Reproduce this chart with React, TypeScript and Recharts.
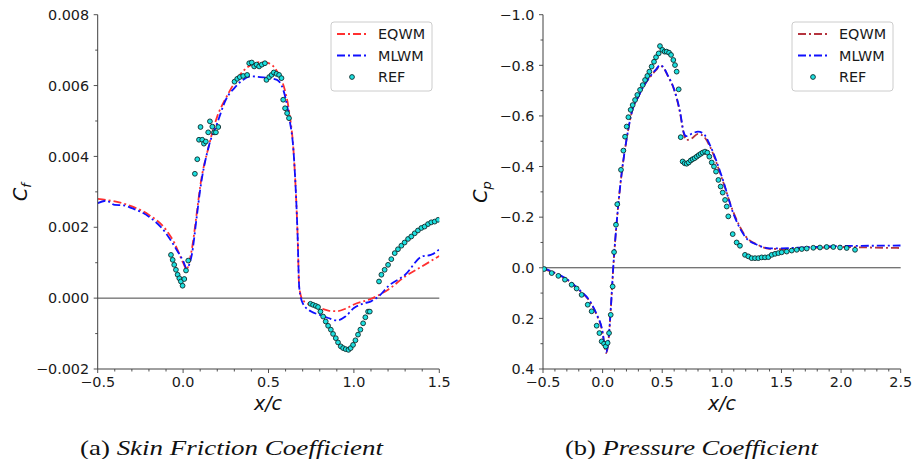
import { ComposedChart, Line, Scatter, XAxis, YAxis, ReferenceLine } from "recharts";

// ---- skin friction (values in units of 1e-3) ----
const cfEqwmX = [-0.5, -0.45, -0.4, -0.3, -0.2, -0.1, -0.05, 0.0, 0.02, 0.05, 0.08, 0.1, 0.15, 0.2, 0.25, 0.3, 0.35, 0.4, 0.45, 0.5, 0.55, 0.6, 0.62, 0.65, 0.67, 0.68, 0.7, 0.75, 0.8, 0.85, 0.9, 0.95, 1.0, 1.1, 1.2, 1.3, 1.4, 1.5];
const cfEqwm = [2.8, 2.77, 2.73, 2.59, 2.35, 1.93, 1.55, 1.0, 0.82, 1.35, 2.4, 3.15, 4.28, 5.13, 5.64, 6.07, 6.4, 6.59, 6.66, 6.63, 6.4, 5.79, 5.3, 3.9, 1.83, 0.3, -0.05, -0.2, -0.28, -0.35, -0.37, -0.3, -0.18, -0.02, 0.24, 0.61, 0.9, 1.19];

const cfMlwmX = [-0.5, -0.45, -0.4, -0.35, -0.3, -0.2, -0.1, -0.05, 0.0, 0.02, 0.05, 0.08, 0.1, 0.15, 0.2, 0.25, 0.3, 0.35, 0.4, 0.45, 0.5, 0.55, 0.6, 0.62, 0.65, 0.67, 0.68, 0.7, 0.75, 0.8, 0.85, 0.9, 0.95, 1.0, 1.05, 1.1, 1.15, 1.2, 1.3, 1.4, 1.45, 1.5];
const cfMlwm = [2.68, 2.75, 2.63, 2.62, 2.54, 2.3, 1.83, 1.46, 1.05, 0.85, 1.2, 2.3, 3.06, 4.28, 4.94, 5.6, 5.93, 6.16, 6.26, 6.24, 6.21, 6.16, 5.64, 5.13, 3.9, 1.83, 0.3, -0.14, -0.38, -0.47, -0.56, -0.63, -0.52, -0.28, -0.16, -0.09, 0.07, 0.33, 0.66, 1.18, 1.22, 1.38];

const cfRefX = [-0.071, -0.061, -0.052, -0.042, -0.032, -0.022, -0.013, -0.003, 0.007, 0.017, 0.03,
  0.069, 0.083, 0.093, 0.102, 0.112, 0.122, 0.133, 0.147, 0.157, 0.171, 0.182, 0.192, 0.206,
  0.301, 0.317, 0.332, 0.352, 0.375, 0.387, 0.402, 0.416, 0.43, 0.445, 0.461, 0.479, 0.488, 0.504, 0.518, 0.531, 0.547, 0.562, 0.576, 0.586, 0.597, 0.609, 0.62,
  0.746, 0.761, 0.777, 0.79, 0.804, 0.82, 0.835, 0.849, 0.865, 0.878, 0.894, 0.907, 0.923, 0.937, 0.952, 0.968, 0.981, 0.995, 1.009, 1.024, 1.038, 1.054, 1.067, 1.083, 1.093,
  1.147, 1.161, 1.18, 1.2, 1.219, 1.239, 1.258, 1.278, 1.297, 1.317, 1.336, 1.356, 1.375, 1.395, 1.414, 1.434, 1.453, 1.473, 1.493];
const cfRef = [1.22, 1.08, 0.94, 0.8, 0.66, 0.56, 0.47, 0.35, 0.54, 0.78, 1.06,
  3.51, 3.92, 4.47, 4.83, 4.47, 4.36, 4.42, 4.68, 4.99, 4.84, 4.68, 4.68, 4.83,
  6.11, 6.19, 6.24, 6.27, 6.3, 6.63, 6.65, 6.54, 6.59, 6.54, 6.59, 6.63, 6.16, 6.24, 6.3, 6.37, 6.33, 6.3, 6.21, 5.6, 5.36, 5.22, 5.08,
  -0.16, -0.19, -0.22, -0.25, -0.38, -0.52, -0.66, -0.78, -0.89, -1.01, -1.13, -1.25, -1.36, -1.41, -1.44, -1.46, -1.41, -1.32, -1.19, -1.03, -0.89, -0.71, -0.54, -0.38, -0.38,
  0.47, 0.66, 0.8, 0.94, 1.1, 1.27, 1.38, 1.48, 1.57, 1.67, 1.74, 1.83, 1.91, 1.98, 2.02, 2.09, 2.14, 2.16, 2.21];

// ---- pressure coefficient ----
const cpX = [-0.5, -0.4, -0.3, -0.2, -0.1, -0.05, 0.0, 0.02, 0.03, 0.05, 0.07, 0.09, 0.12, 0.15, 0.2, 0.25, 0.3, 0.35, 0.4, 0.45, 0.48, 0.5, 0.55, 0.6, 0.65, 0.68, 0.7, 0.75, 0.8, 0.85, 0.9, 1.0, 1.1, 1.2, 1.3, 1.4, 1.5, 1.75, 2.0, 2.25, 2.5];
const cpEqwm = [0.005, 0.021, 0.047, 0.087, 0.139, 0.186, 0.258, 0.32, 0.337, 0.284, 0.153, -0.005, -0.19, -0.334, -0.505, -0.624, -0.676, -0.722, -0.755, -0.782, -0.797, -0.795, -0.755, -0.703, -0.61, -0.532, -0.505, -0.512, -0.529, -0.518, -0.479, -0.354, -0.216, -0.124, -0.091, -0.075, -0.074, -0.078, -0.082, -0.08, -0.078];
const cpMlwm = [0.0, 0.02, 0.045, 0.085, 0.137, 0.184, 0.255, 0.318, 0.333, 0.28, 0.15, -0.008, -0.19, -0.334, -0.505, -0.624, -0.676, -0.722, -0.757, -0.785, -0.8, -0.797, -0.757, -0.705, -0.615, -0.535, -0.52, -0.53, -0.538, -0.528, -0.485, -0.36, -0.21, -0.12, -0.09, -0.077, -0.077, -0.082, -0.086, -0.087, -0.088];

const cpRefX = [-0.49, -0.427, -0.371, -0.316, -0.26, -0.218, -0.176, -0.125, -0.092, -0.05, -0.027, -0.008, 0.012, 0.026, 0.042, 0.054, 0.068, 0.084, 0.096, 0.112, 0.123, 0.154, 0.174, 0.188, 0.202, 0.216, 0.235, 0.252, 0.272, 0.291, 0.314, 0.336, 0.356, 0.375, 0.392, 0.411, 0.431, 0.448, 0.47, 0.481, 0.501, 0.52, 0.537, 0.557, 0.574, 0.593, 0.607, 0.621, 0.638, 0.655,
  0.671, 0.688, 0.705, 0.722, 0.739, 0.755, 0.772, 0.789, 0.806, 0.822, 0.839, 0.859, 0.878, 0.895, 0.915, 0.934, 0.951, 0.971, 0.99, 1.007, 1.027, 1.041, 1.054, 1.091, 1.124, 1.152, 1.194, 1.222, 1.25, 1.278, 1.306, 1.334, 1.362, 1.39, 1.418, 1.446, 1.474, 1.502, 1.544, 1.586, 1.628, 1.67, 1.712, 1.767, 1.823, 1.879, 1.935, 1.991, 2.047, 2.117];
const cpRef = [0.005, 0.021, 0.032, 0.047, 0.067, 0.082, 0.107, 0.146, 0.172, 0.229, 0.258, 0.291, 0.3, 0.311, 0.297, 0.258, 0.186, 0.074, -0.062, -0.17, -0.251, -0.387, -0.463, -0.518, -0.558, -0.595, -0.624, -0.643, -0.663, -0.683, -0.703, -0.722, -0.742, -0.758, -0.775, -0.795, -0.814, -0.832, -0.847, -0.876, -0.861, -0.854, -0.854, -0.85, -0.841, -0.821, -0.801, -0.775, -0.705, -0.516,
  -0.42, -0.413, -0.411, -0.416, -0.424, -0.429, -0.433, -0.439, -0.445, -0.45, -0.455, -0.459, -0.455, -0.439, -0.416, -0.4, -0.38, -0.347, -0.321, -0.297, -0.268, -0.242, -0.203, -0.133, -0.1, -0.087, -0.051, -0.045, -0.038, -0.038, -0.038, -0.041, -0.041, -0.042, -0.051, -0.055, -0.058, -0.061, -0.064, -0.068, -0.071, -0.074, -0.076, -0.079, -0.08, -0.082, -0.082, -0.08, -0.078, -0.071];

// ---- ticks ----
const cfXMajor = [-0.5, 0.0, 0.5, 1.0, 1.5];
const cfXMinor = [-0.4, -0.3, -0.2, -0.1, 0.1, 0.2, 0.3, 0.4, 0.6, 0.7, 0.8, 0.9, 1.1, 1.2, 1.3, 1.4];
const cfYMajor = [-0.002, 0.0, 0.002, 0.004, 0.006, 0.008];
const cfYMinor = [-0.001, 0.001, 0.003, 0.005, 0.007];
const cpXMajor = [-0.5, 0.0, 0.5, 1.0, 1.5, 2.0, 2.5];
const cpXMinor = [-0.4, -0.3, -0.2, -0.1, 0.1, 0.2, 0.3, 0.4, 0.6, 0.7, 0.8, 0.9, 1.1, 1.2, 1.3, 1.4, 1.6, 1.7, 1.8, 1.9, 2.1, 2.2, 2.3, 2.4];
const cpYMajor = [-1.0, -0.8, -0.6, -0.4, -0.2, 0.0, 0.2, 0.4];
const cpYMinor = [-0.9, -0.7, -0.5, -0.3, -0.1, 0.1, 0.3];

const FONT = "'DejaVu Sans', sans-serif";
const AXIS = "#404040";
const RED_A = "#ff3030";
const RED_B = "#b5343f";
const BLUE = "#1010ff";
const CYAN = "#1ee0e0";
const DASH = "8 3 2 3";

const zip = (xs: number[], ys: number[], k = 1) => xs.map((x, i) => ({ x, y: ys[i] * k }));

function fmt(v: number, d: number) {
  const s = Math.abs(v).toFixed(d);
  return v < -1e-12 ? "\u2212" + s : s;
}

const isMajor = (majors: number[], v: number) => majors.some((m) => Math.abs(m - v) < 1e-9);

function XTick(props: any) {
  const { x, y, payload, majors, digits } = props;
  const major = isMajor(majors, payload.value);
  return (
    <g>
      <line x1={x} x2={x} y1={y} y2={y + (major ? 4 : 2.5)} stroke={AXIS} strokeWidth={0.9} />
      {major && (
        <text x={x} y={y + 18} textAnchor="middle" fontSize={14.4} fontFamily={FONT} fill="#1a1a1a">
          {fmt(payload.value, digits)}
        </text>
      )}
    </g>
  );
}

function YTick(props: any) {
  const { x, y, payload, majors, digits } = props;
  const major = isMajor(majors, payload.value);
  return (
    <g>
      <line x1={x - (major ? 4 : 2.5)} x2={x} y1={y} y2={y} stroke={AXIS} strokeWidth={0.9} />
      {major && (
        <text x={x - 8.5} y={y + 5.2} textAnchor="end" fontSize={14.4} fontFamily={FONT} fill="#1a1a1a">
          {fmt(payload.value, digits)}
        </text>
      )}
    </g>
  );
}

const dot = (p: any) => (
  <circle cx={p.cx} cy={p.cy} r={2.4} fill={CYAN} stroke="#0c2a2a" strokeWidth={0.9} />
);

function Panel(props: {
  left: number;
  width: number;
  yAxisWidth: number;
  rightMargin: number;
  xDomain: [number, number];
  yDomain: [number, number];
  xMajor: number[];
  xMinor: number[];
  yMajor: number[];
  yMinor: number[];
  yDigits: number;
  reversed?: boolean;
  eqwm: { x: number; y: number }[];
  mlwm: { x: number; y: number }[];
  ref: { x: number; y: number }[];
  eqColor: string;
}) {
  const xTicks = [...props.xMajor, ...props.xMinor].sort((a, b) => a - b);
  const yTicks = [...props.yMajor, ...props.yMinor].sort((a, b) => a - b);
  return (
    <div style={{ position: "absolute", left: props.left, top: 0 }}>
      <ComposedChart
        width={props.width}
        height={420}
        margin={{ top: 14.7, right: props.rightMargin, left: 0, bottom: 0 }}
      >
        <XAxis
          type="number"
          dataKey="x"
          domain={props.xDomain}
          ticks={xTicks}
          interval={0}
          allowDataOverflow
          height={51}
          tickSize={0}
          tickMargin={0}
          stroke={AXIS}
          tick={<XTick majors={props.xMajor} digits={1} />}
        />
        <XAxis xAxisId="top" type="number" orientation="top" domain={props.xDomain} height={0} tick={false} tickLine={false} stroke={AXIS} />
        <YAxis
          type="number"
          dataKey="y"
          domain={props.yDomain}
          reversed={props.reversed}
          ticks={yTicks}
          interval={0}
          allowDataOverflow
          width={props.yAxisWidth}
          tickSize={0}
          tickMargin={0}
          stroke={AXIS}
          tick={<YTick majors={props.yMajor} digits={props.yDigits} />}
        />
        <YAxis yAxisId="right" type="number" orientation="right" domain={props.yDomain} width={0} tick={false} tickLine={false} stroke={AXIS} />
        <ReferenceLine y={0} stroke="#444" strokeWidth={1} />
        <Line data={props.eqwm} dataKey="y" type="monotone" stroke={props.eqColor} strokeWidth={1.8} strokeDasharray={DASH} dot={false} isAnimationActive={false} />
        <Line data={props.mlwm} dataKey="y" type="monotone" stroke={BLUE} strokeWidth={1.8} strokeDasharray={DASH} dot={false} isAnimationActive={false} />
        <Scatter data={props.ref} dataKey="y" shape={dot} isAnimationActive={false} />
      </ComposedChart>
    </div>
  );
}

function LegendBox({ x, eqColor }: { x: number; eqColor: string }) {
  const rows = [
    { label: "EQWM", color: eqColor },
    { label: "MLWM", color: BLUE },
  ];
  return (
    <g>
      <rect x={x} y={22} width={101} height={69} rx={3} fill="#fff" fillOpacity={0.8} stroke="#cccccc" />
      {rows.map((r, i) => (
        <g key={r.label}>
          <line x1={x + 6} x2={x + 36} y1={34 + i * 21.5} y2={34 + i * 21.5} stroke={r.color} strokeWidth={1.8} strokeDasharray={DASH} />
          <text x={x + 47} y={34 + i * 21.5 + 5.2} fontSize={14.4} fontFamily={FONT} fill="#1a1a1a">{r.label}</text>
        </g>
      ))}
      <circle cx={x + 21} cy={77} r={2.4} fill={CYAN} stroke="#0c2a2a" strokeWidth={0.9} />
      <text x={x + 47} y={82.2} fontSize={14.4} fontFamily={FONT} fill="#1a1a1a">REF</text>
    </g>
  );
}

export default function App() {
  return (
    <div style={{ position: "absolute", left: 0, top: 0, width: 913, height: 459, background: "#fff" }}>
      <Panel
        left={0}
        width={460}
        yAxisWidth={97.7}
        rightMargin={20.7}
        xDomain={[-0.5, 1.5]}
        yDomain={[-0.002, 0.008]}
        xMajor={cfXMajor}
        xMinor={cfXMinor}
        yMajor={cfYMajor}
        yMinor={cfYMinor}
        yDigits={3}
        eqwm={zip(cfEqwmX, cfEqwm, 0.001)}
        mlwm={zip(cfMlwmX, cfMlwm, 0.001)}
        ref={zip(cfRefX, cfRef, 0.001)}
        eqColor={RED_A}
      />
      <Panel
        left={460}
        width={453}
        yAxisWidth={83}
        rightMargin={12.3}
        xDomain={[-0.5, 2.5]}
        yDomain={[-1.0, 0.4]}
        reversed
        xMajor={cpXMajor}
        xMinor={cpXMinor}
        yMajor={cpYMajor}
        yMinor={cpYMinor}
        yDigits={1}
        eqwm={zip(cpX, cpEqwm)}
        mlwm={zip(cpX, cpMlwm)}
        ref={zip(cpRefX, cpRef)}
        eqColor={RED_B}
      />
      <svg width={913} height={459} style={{ position: "absolute", left: 0, top: 0, pointerEvents: "none" }}>
        <LegendBox x={331} eqColor={RED_A} />
        <LegendBox x={792} eqColor={RED_B} />
        <text x={268} y={410} textAnchor="middle" fontSize={19} fontStyle="italic" fontFamily={FONT} fill="#111">x/c</text>
        <text x={722} y={410} textAnchor="middle" fontSize={19} fontStyle="italic" fontFamily={FONT} fill="#111">x/c</text>
        <text transform="translate(27,192) rotate(-90)" textAnchor="middle" fontSize={19} fontStyle="italic" fontFamily={FONT} fill="#111">
          C<tspan fontSize={13} dy={4}>f</tspan>
        </text>
        <text transform="translate(487,192) rotate(-90)" textAnchor="middle" fontSize={19} fontStyle="italic" fontFamily={FONT} fill="#111">
          C<tspan fontSize={13} dy={4}>p</tspan>
        </text>
        <text x={80} y={455} fontSize={22} fontFamily="'Liberation Serif', serif" fill="#111" textLength={303} lengthAdjust="spacingAndGlyphs">
          (a) <tspan fontStyle="italic">Skin Friction Coefficient</tspan>
        </text>
        <text x={565} y={455} fontSize={22} fontFamily="'Liberation Serif', serif" fill="#111" textLength={253} lengthAdjust="spacingAndGlyphs">
          (b) <tspan fontStyle="italic">Pressure Coefficient</tspan>
        </text>
      </svg>
    </div>
  );
}
